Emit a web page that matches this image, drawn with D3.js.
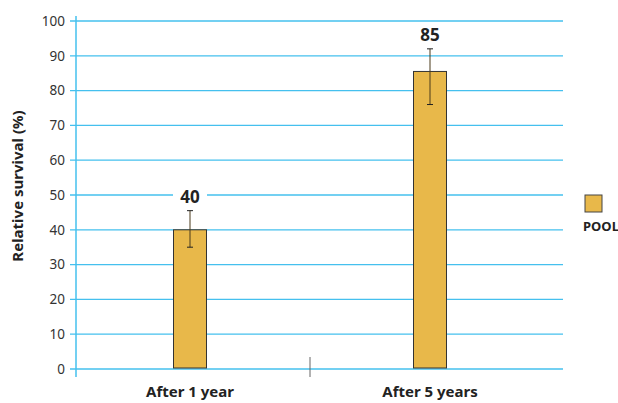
<!DOCTYPE html>
<html>
<head>
    <meta charset="utf-8">
    <style>
        body { margin: 0; background: #fff; }
        svg { display: block; font-family: 'Noto Sans', 'Open Sans', sans-serif; }
    </style>
</head>
<body>
    <svg width="618" height="403"></svg>

<script src="https://d3js.org/d3.v7.min.js"></script>
<script>
    // chart values
    let categories = ["After 1 year", "After 5 years"]
    let survival = [40, 85.5]
    let labels = ["40", "85"]
    let errLow = [35, 76]
    let errHigh = [45.5, 92]
    let yTicks = [0, 10, 20, 30, 40, 50, 60, 70, 80, 90, 100]
    let legendName = "POOL"

    let data = categories.map((c, i) => ({
        cat: c, v: survival[i], lab: labels[i], lo: errLow[i], hi: errHigh[i]
    }))

    let svg = d3.select("svg")
    let gridColor = "#45c0ee"
    let barColor = "#e8b84a"

    let x = d3.scaleBand()
        .domain(categories)
        .range([70, 550])

    let y = d3.scaleLinear()
        .domain([0, 100])
        .range([369, 21])

    // gridlines
    svg.append("g")
        .selectAll("line")
        .data(yTicks)
        .join("line")
        .attr("x1", 70)
        .attr("x2", 563)
        .attr("y1", d => y(d))
        .attr("y2", d => y(d))
        .style("stroke", gridColor)
        .style("stroke-width", 1.3)

    // y axis line
    svg.append("line")
        .attr("x1", 76).attr("x2", 76)
        .attr("y1", 16).attr("y2", 377)
        .style("stroke", gridColor)
        .style("stroke-width", 1.5)

    // tick labels
    svg.append("g")
        .selectAll("text")
        .data(yTicks)
        .join("text")
        .attr("x", 65)
        .attr("y", d => y(d))
        .attr("dy", "0.35em")
        .attr("text-anchor", "end")
        .style("font-size", "13.5px")
        .style("fill", "#333")
        .text(d => d)

    // divider between categories
    svg.append("line")
        .attr("x1", x.range()[0] + x.step()).attr("x2", x.range()[0] + x.step())
        .attr("y1", 357).attr("y2", 377)
        .style("stroke", "#666")
        .style("stroke-width", 1)

    let bw = 33

    // value labels with white backing
    let lbl = svg.append("g")
        .selectAll("g")
        .data(data)
        .join("g")
        .attr("transform", d => `translate(${x(d.cat) + x.bandwidth() / 2},${y(d.hi) - 14})`)

    lbl.append("rect")
        .attr("x", -17).attr("y", -11)
        .attr("width", 34).attr("height", 22)
        .style("fill", "#fff")

    lbl.append("text")
        .attr("text-anchor", "middle")
        .attr("dy", "0.35em")
        .style("font-size", "17px")
        .style("font-weight", "bold")
        .style("fill", "#222")
        .text(d => d.lab)

    // bars
    svg.append("g")
        .selectAll("rect")
        .data(data)
        .join("rect")
        .attr("x", d => x(d.cat) + x.bandwidth() / 2 - bw / 2)
        .attr("y", d => y(d.v))
        .attr("width", bw)
        .attr("height", d => y(0) - y(d.v) - 1)
        .style("fill", barColor)
        .style("stroke", "#333")
        .style("stroke-width", 1)

    // error bars
    let err = svg.append("g")
        .selectAll("g")
        .data(data)
        .join("g")
        .attr("transform", d => `translate(${x(d.cat) + x.bandwidth() / 2},0)`)

    err.append("line")
        .attr("y1", d => y(d.lo)).attr("y2", d => y(d.hi))
        .style("stroke", "#4a3a1a")
        .style("stroke-width", 1)
    err.append("line")
        .attr("x1", -3).attr("x2", 3)
        .attr("y1", d => y(d.hi)).attr("y2", d => y(d.hi))
        .style("stroke", "#222")
    err.append("line")
        .attr("x1", -3).attr("x2", 3)
        .attr("y1", d => y(d.lo)).attr("y2", d => y(d.lo))
        .style("stroke", "#222")

    // category labels
    svg.append("g")
        .selectAll("text")
        .data(categories)
        .join("text")
        .attr("x", d => x(d) + x.bandwidth() / 2)
        .attr("y", 397)
        .attr("text-anchor", "middle")
        .style("font-size", "15px")
        .style("font-weight", "bold")
        .style("fill", "#222")
        .text(d => d)

    // y axis title
    svg.append("text")
        .attr("transform", "translate(23,186) rotate(-90)")
        .attr("text-anchor", "middle")
        .style("font-size", "15px")
        .style("font-weight", "bold")
        .style("fill", "#222")
        .text("Relative survival (%)")

    // legend
    svg.append("rect")
        .attr("x", 585).attr("y", 195)
        .attr("width", 17).attr("height", 17)
        .style("fill", barColor)
        .style("stroke", "#444")
        .style("stroke-width", 1)

    svg.append("text")
        .attr("x", 583).attr("y", 231)
        .style("font-size", "13px")
        .style("font-weight", "bold")
        .style("fill", "#222")
        .text(legendName)
</script>
</body>
</html>
